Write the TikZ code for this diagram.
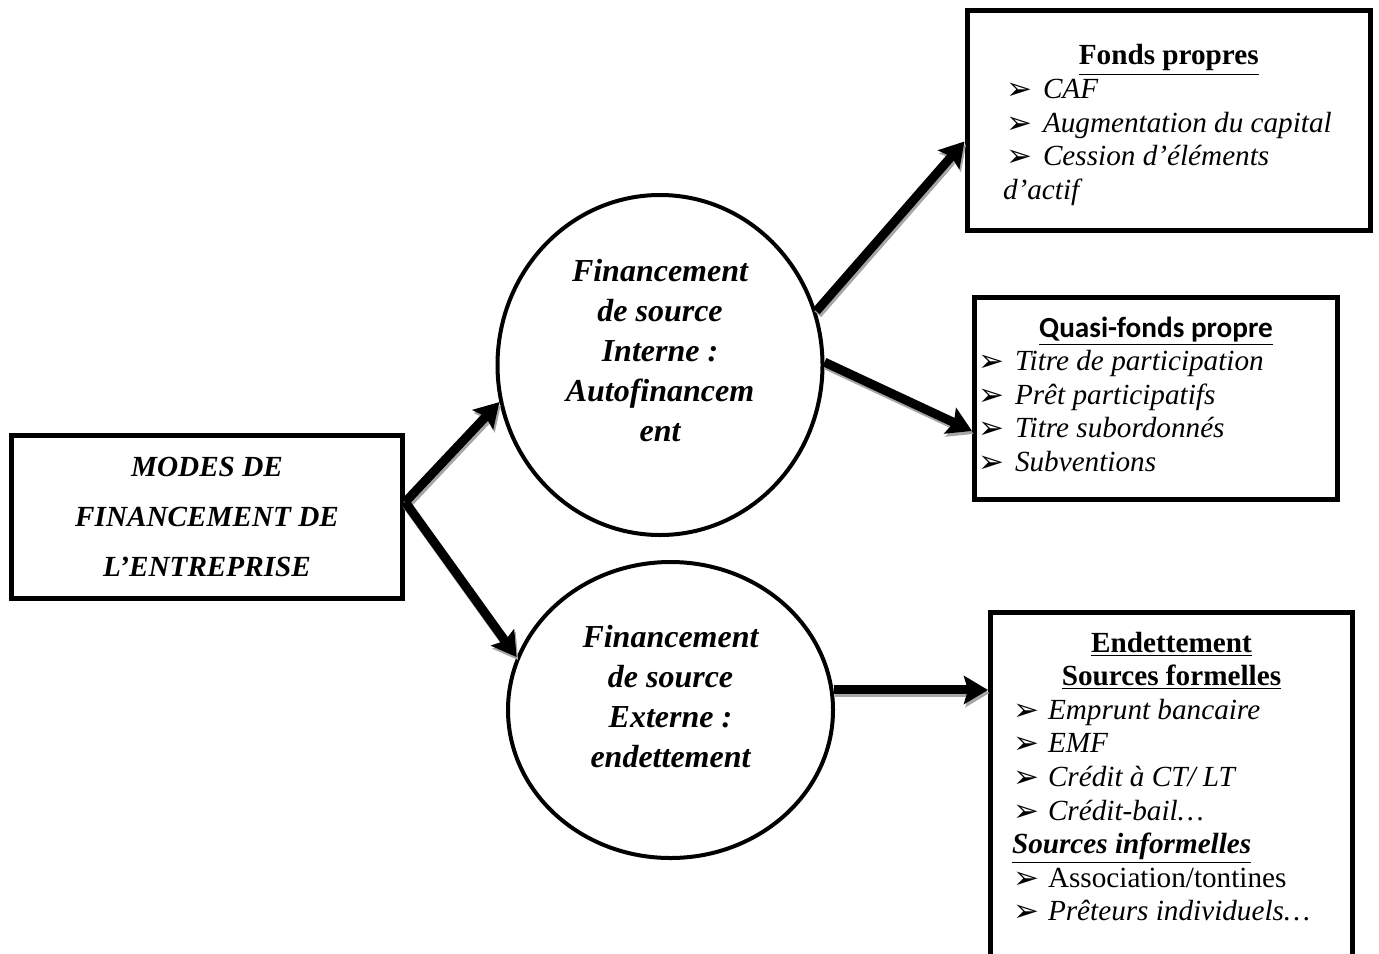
\documentclass[tikz,border=0pt]{standalone}
\usepackage{fontspec}
\setmainfont{Liberation Serif}
\newfontfamily\calibri{Carlito}
\newfontfamily\dejavu{DejaVu Sans}
\usetikzlibrary{shapes.geometric,arrows.meta}

\newcommand{\puce}[1]{\makebox[#1][l]{\raisebox{-0.5pt}{\dejavu\fontsize{15.5}{15.5}\selectfont ➢}}}
\newcommand{\contenu}[4]{\begin{minipage}[c][#2][t]{#1}\vspace*{#3}#4\end{minipage}}
\newcommand{\titre}[1]{\makebox[\linewidth]{\strut\underline{#1}}}
\newcommand{\fleche}[2]{\draw[ombre] (#1) -- (#2); \draw[fleche] (#1) -- (#2);}

\begin{document}
\begin{tikzpicture}[x=0.5pt,y=-0.5pt,
    cadre/.style={draw,line width=2.5pt,inner sep=0pt,font=\fontsize{14.6}{16.8}\selectfont},
    bulle/.style={ellipse,draw,line width=2pt,inner sep=0pt,minimum width=162.5pt},
    texteBulle/.style={font=\fontsize{16}{20}\selectfont\bfseries\itshape,align=center},
    fleche/.style={line width=4.5pt,-{Stealth[length=12pt,width=14pt,inset=2pt]}},
    ombre/.style={fleche,draw=black!35,transform canvas={shift={(0.75pt,-1.5pt)}}}]
    \useasboundingbox (0,0) rectangle (1379,953);
    %\draw[help lines] (0,0) grid[step=100] (1379,953);
    \node[cadre,minimum width=195.75pt,minimum height=81.75pt,align=center,
        font=\fontsize{14.6}{25}\selectfont\bfseries\itshape] (modes) at (207,517)
        {MODES DE\\FINANCEMENT DE\\L’ENTREPRISE};
    \node[bulle,minimum height=170pt,
        label={[name=interneTexte,texteBulle,yshift=7.25pt]center:{Financement\\de source\\Interne :\\Autofinancem\\ent}}]
        (interne) at (660,365) {};
    \node[bulle,minimum height=148pt,
        label={[name=externeTexte,texteBulle,yshift=6.5pt]center:{Financement\\de source\\Externe :\\endettement}}]
        (externe) at (670.5,710) {};
    \node[cadre] (fonds) at (1168.75,120) {\contenu{201.75pt}{110pt}{15.7pt}{%
        \titre{\textbf{Fonds propres}}\\
        \hspace*{19.85pt}\puce{18.15pt}\textit{CAF}\\
        \hspace*{19.85pt}\puce{18.15pt}\textit{Augmentation du capital}\\
        \hspace*{19.85pt}\puce{18.15pt}\textit{Cession d’éléments}\\
        \hspace*{18pt}\textit{d’actif}}};
    \node[cadre] (quasi) at (1156,398.5) {\contenu{181.5pt}{101pt}{8pt}{%
        \titre{\calibri\bfseries Quasi-fonds propre}\\
        \hspace*{1.75pt}\puce{18.5pt}\textit{Titre de participation}\\
        \hspace*{1.75pt}\puce{18.5pt}\textit{Prêt participatifs}\\
        \hspace*{1.75pt}\puce{18.5pt}\textit{Titre subordonnés}\\
        \hspace*{1.75pt}\puce{18.5pt}\textit{Subventions}}};
    \node[cadre] (endet) at (1171.5,793.75) {\contenu{181pt}{181.25pt}{8pt}{%
        \titre{\textbf{Endettement}}\\
        \titre{\textbf{Sources formelles}}\\
        \hspace*{11.25pt}\puce{17.5pt}\textit{Emprunt bancaire}\\
        \hspace*{11.25pt}\puce{17.5pt}\textit{EMF}\\
        \hspace*{11.25pt}\puce{17.5pt}\textit{Crédit à CT/ LT}\\
        \hspace*{11.25pt}\puce{17.5pt}\textit{Crédit-bail…}\\
        \hspace*{10.75pt}\underline{\textbf{\textit{Sources informelles}}}\\
        \hspace*{11.25pt}\puce{17.5pt}Association/tontines\\
        \hspace*{11.25pt}\puce{17.5pt}\textit{Prêteurs individuels…}}};
    \fleche{[yshift=7.5pt]modes.east}{interne.193}
    \fleche{[yshift=7.5pt]modes.east}{externe.161}
    \fleche{interne.19}{fonds.186}
    \fleche{interne.1}{quasi.190}
    \fleche{externe.7}{endet.west |- externe.7}
\end{tikzpicture}
\end{document}
